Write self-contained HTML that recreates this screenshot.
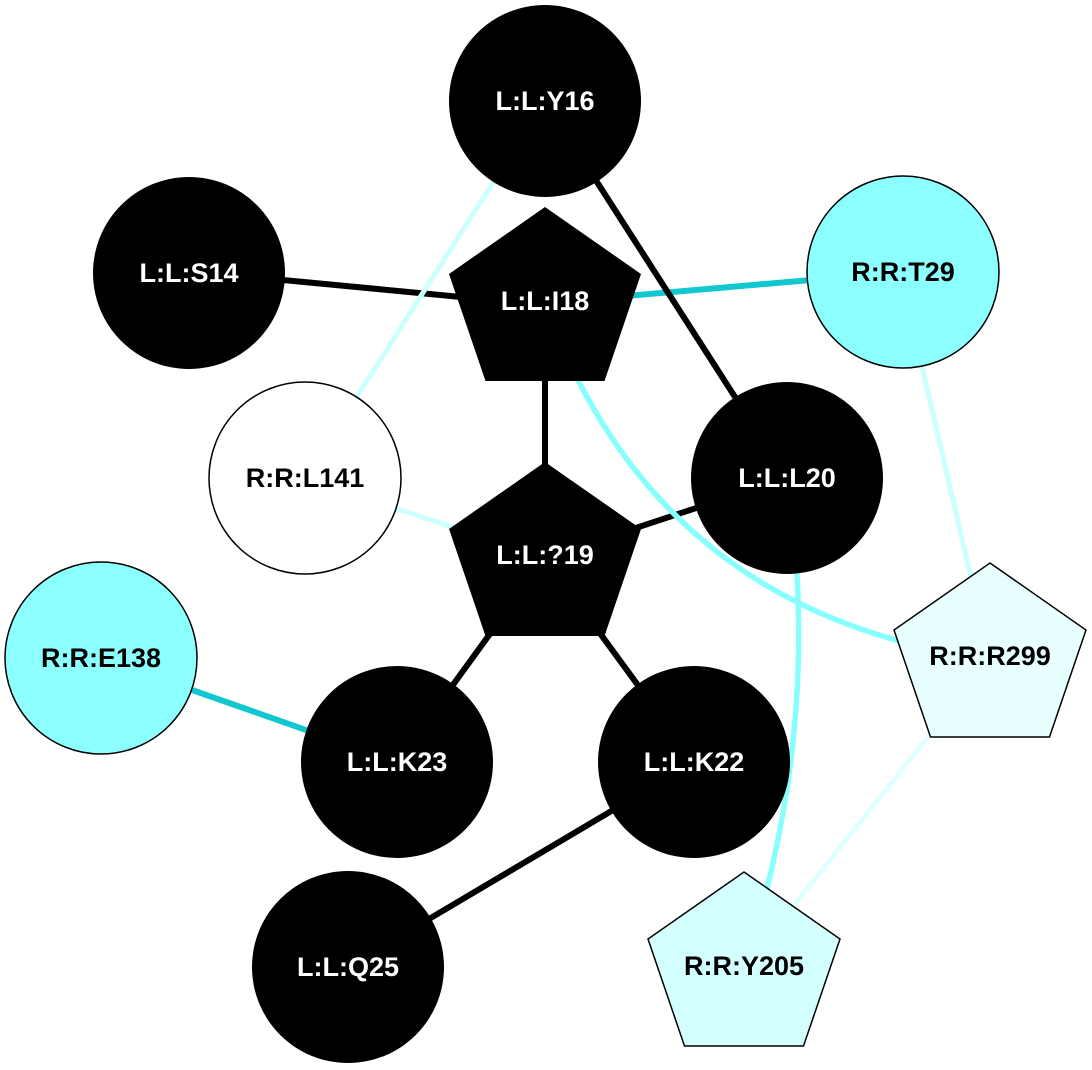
<!DOCTYPE html>
<html><head><meta charset="utf-8"><style>
html,body{margin:0;padding:0;background:#fff;}
svg{display:block;}
text{font-family:"Liberation Sans",Arial,sans-serif;font-weight:bold;font-size:27px;text-anchor:middle;}
</style></head><body>
<svg width="1092" height="1070" viewBox="0 0 1092 1070" xmlns="http://www.w3.org/2000/svg">
<rect width="1092" height="1070" fill="#fff"/>
<g fill="none" stroke-linecap="butt">
<line x1="189" y1="271" x2="545" y2="305" stroke="#000" stroke-width="6"/>
<line x1="545" y1="101" x2="305" y2="478" stroke="#CCFFFF" stroke-width="5"/>
<line x1="545" y1="303" x2="903" y2="272" stroke="#12C8D0" stroke-width="6"/>
<line x1="545" y1="101" x2="787" y2="478" stroke="#000" stroke-width="6"/>
<line x1="545" y1="303" x2="545" y2="558" stroke="#000" stroke-width="6"/>
<line x1="305" y1="478" x2="545" y2="558" stroke="#CCFFFF" stroke-width="5"/>
<line x1="545" y1="558" x2="787" y2="478" stroke="#000" stroke-width="6"/>
<line x1="545" y1="558" x2="397" y2="762" stroke="#000" stroke-width="6"/>
<line x1="545" y1="558" x2="694" y2="762" stroke="#000" stroke-width="6"/>
<line x1="101" y1="658" x2="397" y2="762" stroke="#12C8D0" stroke-width="6"/>
<line x1="694" y1="762" x2="348" y2="967" stroke="#000" stroke-width="6"/>
<line x1="900" y1="272" x2="990" y2="659" stroke="#CCFFFF" stroke-width="5"/>
<line x1="990" y1="659" x2="744" y2="968" stroke="#E0FFFF" stroke-width="5"/>
<path d="M545,303 Q657,615 990,659" stroke="#88FFFF" stroke-width="5.5"/>
<path d="M787,478 Q824,724 744,968" stroke="#88FFFF" stroke-width="5.5"/>
</g>
<circle cx="545" cy="101" r="96" fill="#000"/>
<circle cx="189" cy="273" r="96" fill="#000"/>
<circle cx="903" cy="272" r="96" fill="#8CFFFF" stroke="#000" stroke-width="1.5"/>
<circle cx="305" cy="478" r="96" fill="#fff" stroke="#000" stroke-width="1.5"/>
<circle cx="787" cy="478" r="96" fill="#000"/>
<circle cx="101" cy="658" r="96" fill="#8CFFFF" stroke="#000" stroke-width="1.5"/>
<circle cx="397" cy="762" r="96" fill="#000"/>
<circle cx="694" cy="762" r="96" fill="#000"/>
<circle cx="348" cy="967" r="96" fill="#000"/>
<polygon points="545,207 641,274 604.5,381 485.5,381 449,274" fill="#000"/>
<polygon points="545,462 641,529 604.5,636 485.5,636 449,529" fill="#000"/>
<polygon points="990,563 1086,630 1049.5,737 930.5,737 894,630" fill="#E8FFFF" stroke="#000" stroke-width="1.5"/>
<polygon points="744,872 840,939 803.5,1046 684.5,1046 648,939" fill="#D4FFFF" stroke="#000" stroke-width="1.5"/>
<text x="545" y="110" fill="#fff">L:L:Y16</text>
<text x="189" y="282" fill="#fff">L:L:S14</text>
<text x="545" y="310" fill="#fff">L:L:I18</text>
<text x="903" y="281" fill="#000">R:R:T29</text>
<text x="305" y="487" fill="#000">R:R:L141</text>
<text x="787" y="487" fill="#fff">L:L:L20</text>
<text x="545" y="564" fill="#fff">L:L:?19</text>
<text x="101" y="667" fill="#000">R:R:E138</text>
<text x="990" y="665" fill="#000">R:R:R299</text>
<text x="397" y="771" fill="#fff">L:L:K23</text>
<text x="694" y="771" fill="#fff">L:L:K22</text>
<text x="348" y="976" fill="#fff">L:L:Q25</text>
<text x="744" y="975" fill="#000">R:R:Y205</text>
</svg>
</body></html>
